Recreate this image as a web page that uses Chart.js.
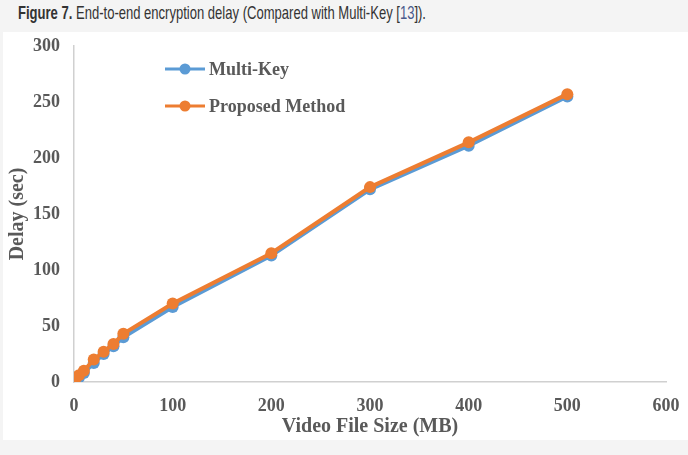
<!DOCTYPE html>
<html>
<head>
<meta charset="utf-8">
<script src="https://cdn.jsdelivr.net/npm/chart.js@4/dist/chart.umd.min.js"></script>
<style>
  html, body { margin:0; padding:0; background:#f4f4f4; width:688px; height:455px; overflow:hidden; }
  #title { position:absolute; left:18px; top:2px; font-family:"Liberation Sans Narrow","Liberation Sans",Arial,sans-serif; font-size:19px; color:#333; white-space:nowrap; transform-origin:left top; }
  #title b { font-weight:bold; }
  #title .ref { color:#4a5a8c; }
  #panel { position:absolute; left:3px; top:32px; width:685px; height:408px; background:#fff; }
  canvas { display:block; }
</style>
</head>
<body>
<div id="title"><b>Figure 7.</b> End-to-end encryption delay (Compared with Multi-Key [<span class="ref">13</span>]).</div>
<div id="panel"><canvas id="c" width="685" height="408"></canvas></div>
<script>
const fileSizes = [1, 5, 10, 20, 30, 40, 50, 100, 200, 300, 400, 500];
const multiKey = [1, 4, 8, 17, 25, 32, 40, 67, 113, 172, 211, 255];
const proposed = [2, 6, 10, 20, 27, 34, 43, 70, 115, 174, 214, 257];
const seriesNames = ['Multi-Key', 'Proposed Method'];
const seriesColors = ['#5B9BD5', '#ED7D31'];
const xTickStep = 100, xMax = 600;
const yTickStep = 50, yMax = 300;

const toPoints = vals => fileSizes.map((x, i) => ({x: x, y: vals[i]}));

const serif = '"Liberation Serif","Times New Roman",serif';
const txt = '#595959';

const legendPlugin = {
  id: 'inlineLegend',
  afterDraw(chart) {
    const ctx = chart.ctx;
    const rows = [37, 74];
    ctx.save();
    chart.data.datasets.forEach((ds, i) => {
      const y = rows[i];
      ctx.strokeStyle = ds.borderColor;
      ctx.lineWidth = 3;
      ctx.beginPath(); ctx.moveTo(162, y); ctx.lineTo(202, y); ctx.stroke();
      ctx.fillStyle = ds.borderColor;
      ctx.beginPath(); ctx.arc(182, y, 5.5, 0, Math.PI * 2); ctx.fill();
      ctx.fillStyle = txt;
      ctx.font = 'bold 18px ' + serif;
      ctx.textBaseline = 'middle';
      ctx.textAlign = 'left';
      ctx.fillText(ds.label, 206, y + 1);
    });
    ctx.restore();
  }
};

new Chart(document.getElementById('c'), {
  type: 'line',
  data: {
    datasets: [
      { label: seriesNames[0], data: toPoints(multiKey), borderColor: seriesColors[0], backgroundColor: seriesColors[0],
        pointBackgroundColor: seriesColors[0], pointBorderWidth: 0, pointRadius: 6, borderWidth: 4, order: 1, tension: 0 },
      { label: seriesNames[1], data: toPoints(proposed), borderColor: seriesColors[1], backgroundColor: seriesColors[1],
        pointBackgroundColor: seriesColors[1], pointBorderWidth: 0, pointRadius: 6, borderWidth: 4, order: 0, tension: 0 }
    ]
  },
  options: {
    responsive: false,
    animation: false,
    layout: { padding: { left: 0, right: 22, top: 14, bottom: 0 } },
    plugins: { legend: { display: false }, tooltip: { enabled: false } },
    scales: {
      x: {
        type: 'linear', min: 0, max: xMax,
        ticks: { stepSize: xTickStep, color: txt, padding: 14, font: { family: serif, size: 18, weight: 'bold' } },
        grid: { display: false, drawTicks: false },
        border: { display: true, color: '#d0d0d0', width: 1.5 },
        title: { display: true, text: 'Video File Size (MB)', color: txt, padding: { top: 0, bottom: 1 },
                 font: { family: serif, size: 20, weight: 'bold' } },
        afterFit(s) { s.height = 58; s.paddingRight = 10; s.paddingLeft = 10; }
      },
      y: {
        type: 'linear', min: 0, max: yMax,
        ticks: { stepSize: yTickStep, color: txt, padding: 14, font: { family: serif, size: 18, weight: 'bold' } },
        grid: { display: false, drawTicks: false },
        border: { display: true, color: '#d0d0d0', width: 1.5 },
        title: { display: true, text: 'Delay (sec)', color: txt, padding: { top: 3, bottom: 0 },
                 font: { family: serif, size: 20, weight: 'bold' } },
        afterFit(s) { s.width = 71; s.paddingTop = 8; s.paddingBottom = 8; }
      }
    }
  },
  plugins: [legendPlugin]
});

// fit title width to reference (~408px)
const t = document.getElementById('title');
const w = t.getBoundingClientRect().width;
if (w > 0) t.style.transform = 'scaleX(' + (408 / w) + ')';
</script>
</body>
</html>
